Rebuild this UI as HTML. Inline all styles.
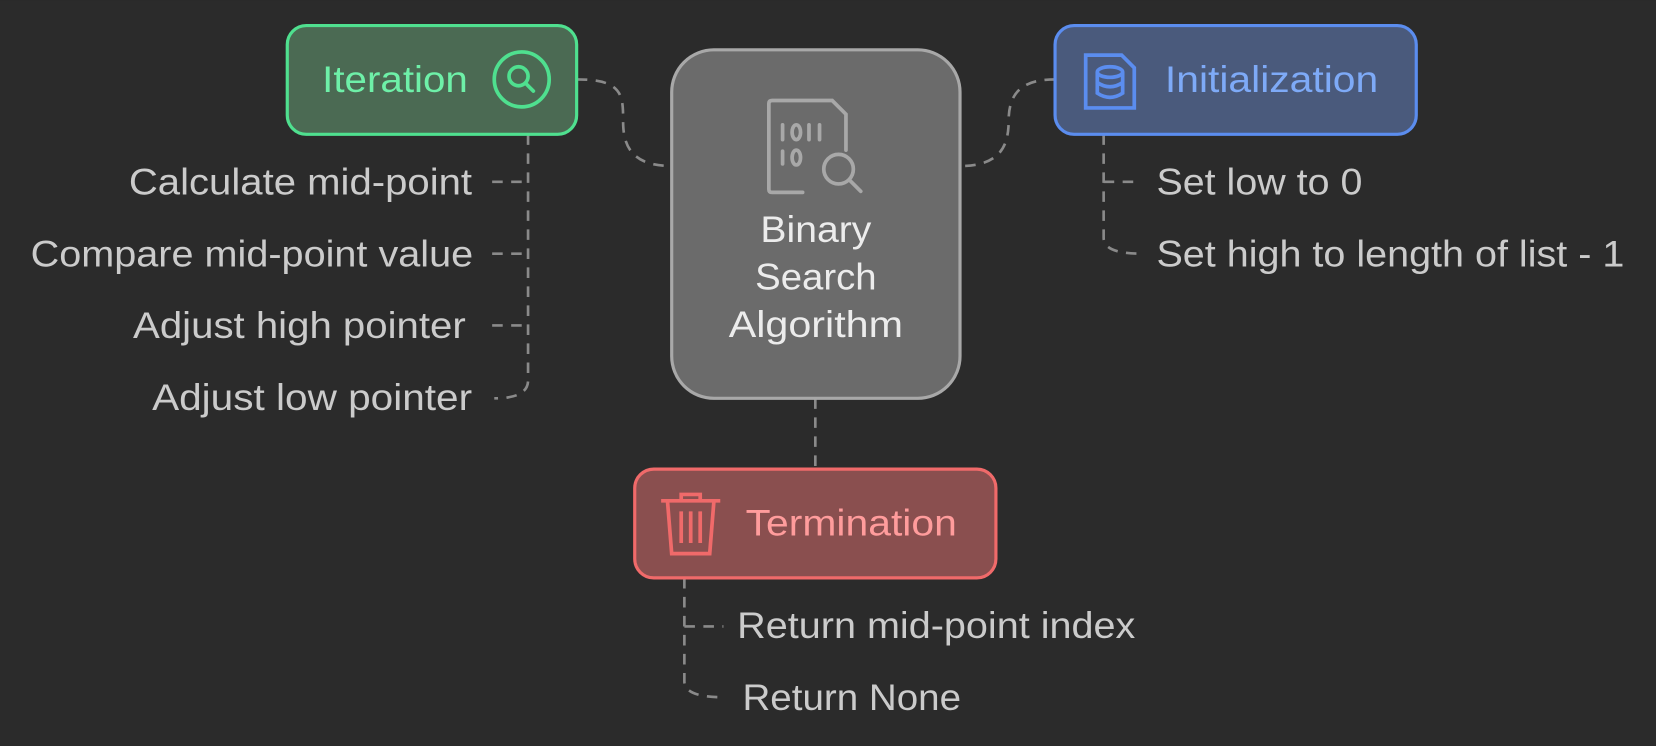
<!DOCTYPE html>
<html><head><meta charset="utf-8"><style>
html,body{margin:0;padding:0;background:#2b2b2b;}
svg{display:block}
text{font-family:"Liberation Sans",sans-serif;}
</style></head><body>
<svg width="1656" height="746" viewBox="0 0 1568 706" xmlns="http://www.w3.org/2000/svg">
<rect width="1568" height="706" fill="#2b2b2b"/>
<g fill="none" stroke="#8a8a8a" stroke-width="2.5" stroke-dasharray="10 8">
<path d="M546 75 C590 75 590 90 590 115 C590 140 600 157 636 157"/>
<path d="M999 75 C965 75 955 90 955 115 C955 140 945 157 909 157"/>
<path d="M772 377 L772 444"/>
<path d="M500 127 L500 360 Q500 377 468 377"/>
<path d="M466 172 L500 172 M466 240 L500 240 M466 308 L500 308"/>
<path d="M1045 127 L1045 225 Q1045 240 1080 240"/>
<path d="M1045 172 L1080 172"/>
<path d="M648 547 L648 645 Q648 660 685 660"/>
<path d="M648 593 L685 593"/>
</g>
<rect x="272" y="24" width="274" height="103" rx="18" fill="#4b6a53" stroke="#4fe08f" stroke-width="3"/>
<text x="305" y="87" font-size="35" fill="#6ef0a8" textLength="138" lengthAdjust="spacingAndGlyphs">Iteration</text>
<circle cx="494" cy="75" r="26" fill="none" stroke="#4fe08f" stroke-width="3.5"/>
<circle cx="491" cy="72" r="9" fill="none" stroke="#4fe08f" stroke-width="3.5"/>
<line x1="498" y1="79" x2="505" y2="86" stroke="#4fe08f" stroke-width="3.5" stroke-linecap="round"/>

<rect x="636" y="47" width="273" height="330" rx="40" fill="#6b6b6b" stroke="#a8a8a8" stroke-width="3"/>
<g fill="none" stroke="#a8a8a8" stroke-width="3.5" stroke-linecap="round">
<path d="M760 182 L731 182 Q728 182 728 179 L728 98 Q728 95 731 95 L788 95 L801 108 L801 142"/>
<path d="M741 118v14 M766 118v14 M776 118v14 M741 143v12"/>
<ellipse cx="754" cy="125" rx="4" ry="7"/><ellipse cx="754" cy="149" rx="4" ry="7"/>
<circle cx="794" cy="160" r="14"/><line x1="804" y1="170" x2="815" y2="181"/>
</g>
<g font-size="35" fill="#ececec">
<text x="720" y="229" textLength="105" lengthAdjust="spacingAndGlyphs">Binary</text>
<text x="715" y="274" textLength="115" lengthAdjust="spacingAndGlyphs">Search</text>
<text x="690" y="319" textLength="165" lengthAdjust="spacingAndGlyphs">Algorithm</text>
</g>

<rect x="999" y="24" width="342" height="103" rx="18" fill="#4a5a7c" stroke="#5b8def" stroke-width="3"/>
<g fill="none" stroke="#5b8def" stroke-width="3.5">
<path d="M1028 52 L1062 52 L1074 64 L1074 102 L1028 102 Z"/>
<ellipse cx="1051" cy="68" rx="12" ry="5"/>
<path d="M1039 68 v20 q12 8 24 0 v-20 M1039 78 q12 8 24 0"/>
</g>
<text x="1103" y="87" font-size="35" fill="#7eaaf7" textLength="202" lengthAdjust="spacingAndGlyphs">Initialization</text>

<rect x="601" y="444" width="342" height="103" rx="18" fill="#8a4f4f" stroke="#f06a6a" stroke-width="3"/>
<g fill="none" stroke="#f06a6a" stroke-width="3.5">
<path d="M626 474 h56 M645 474 v-6 h18 v6 M632 474 l4 50 h36 l4 -50 M645 484v30 M654 484v30 M663 484v30"/>
</g>
<text x="706" y="507" font-size="35" fill="#ff9c9c" textLength="200" lengthAdjust="spacingAndGlyphs">Termination</text>

<g font-size="35" fill="#cbcbcb">
<text x="122" y="184" textLength="325" lengthAdjust="spacingAndGlyphs">Calculate mid-point</text>
<text x="29" y="252" textLength="419" lengthAdjust="spacingAndGlyphs">Compare mid-point value</text>
<text x="126" y="320" textLength="315" lengthAdjust="spacingAndGlyphs">Adjust high pointer</text>
<text x="144" y="388" textLength="303" lengthAdjust="spacingAndGlyphs">Adjust low pointer</text>
<text x="1095" y="184" textLength="195" lengthAdjust="spacingAndGlyphs">Set low to 0</text>
<text x="1095" y="252" textLength="443" lengthAdjust="spacingAndGlyphs">Set high to length of list - 1</text>
<text x="698" y="604" textLength="377" lengthAdjust="spacingAndGlyphs">Return mid-point index</text>
<text x="703" y="672" textLength="207" lengthAdjust="spacingAndGlyphs">Return None</text>
</g>
</svg>
</body></html>
